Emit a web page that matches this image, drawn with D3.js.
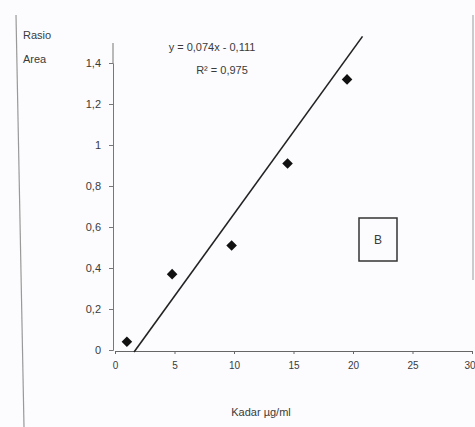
<!DOCTYPE html>
<html><head><meta charset="utf-8">
<script src="https://cdn.jsdelivr.net/npm/d3@7"></script>
<style>body{margin:0;background:#fcfcfe}svg{display:block}text{font-family:"Liberation Sans",Arial,sans-serif;fill:#3a3a3a}</style>
</head><body><svg id="c" width="475" height="427"></svg>
<script>
const xValues = [1.0, 4.8, 9.8, 14.5, 19.5];
const yValues = [0.04, 0.37, 0.51, 0.91, 1.32];
const xTicks = [0, 5, 10, 15, 20, 25, 30];
const yTicks = [0, 0.2, 0.4, 0.6, 0.8, 1, 1.2, 1.4];
const trendX = [1.6, 20.8];
const trendY = [-0.01, 1.53];
const equationText = "y = 0,074x - 0,111";
const r2Text = "R² = 0,975";
const xTitle = "Kadar µg/ml";
const yTitle = ["Rasio", "Area"];
const panelLabel = "B";

const svg = d3.select("#c");
const x = d3.scaleLinear().domain([0, 30]).range([115, 472]);
const y = d3.scaleLinear().domain([0, 1.4]).range([350, 63]);
const fmt = d => String(d).replace(".", ",");

// scan frame lines
svg.append("line").attr("x1",16).attr("y1",15).attr("x2",24).attr("y2",427).attr("stroke","#999").attr("stroke-width",1.2);
svg.append("line").attr("x1",473).attr("y1",15).attr("x2",473).attr("y2",280).attr("stroke","#aaa").attr("stroke-width",1.2);

// axes
const ya = svg.append("g").attr("transform","translate(113,0)")
  .call(d3.axisLeft(y).tickValues(yTicks).tickFormat(fmt).tickSize(4).tickPadding(8));
ya.select(".domain").attr("stroke","#777");
ya.selectAll(".tick line").attr("stroke","#777");
ya.selectAll("text").style("font-size","11px").attr("fill","#3a3a3a");
svg.append("line").attr("x1",113).attr("x2",113).attr("y1",43).attr("y2",63).attr("stroke","#777");

const xa = svg.append("g").attr("transform","translate(0,351)")
  .call(d3.axisBottom(x).tickValues(xTicks).tickFormat(fmt).tickSize(3).tickPadding(8));
xa.select(".domain").attr("stroke","#666");
xa.selectAll(".tick line").attr("stroke","#666");
xa.selectAll("text").style("font-size","10px").attr("fill","#555");
xa.selectAll(".tick").filter(d => d === 30).select("text").attr("text-anchor","end").attr("x",3);

// trend line
svg.append("line")
  .attr("x1", x(trendX[0])).attr("y1", y(trendY[0]))
  .attr("x2", x(trendX[1])).attr("y2", y(trendY[1]))
  .attr("stroke","#222").attr("stroke-width",1.6);

// points (diamonds)
svg.selectAll("path.pt").data(xValues.map((d,i)=>[d,yValues[i]])).enter().append("path")
  .attr("class","pt")
  .attr("d", d3.symbol(d3.symbolSquare, 56))
  .attr("transform", d => `translate(${x(d[0])},${y(d[1])}) rotate(45)`)
  .attr("fill","#111");

// texts
svg.append("text").attr("x",212).attr("y",51).attr("text-anchor","middle").style("font-size","11px").text(equationText);
svg.append("text").attr("x",222).attr("y",74).attr("text-anchor","middle").style("font-size","11px").text(r2Text);
svg.append("text").attr("x",23).attr("y",39).style("font-size","11px").text(yTitle[0]);
svg.append("text").attr("x",23).attr("y",63).style("font-size","11px").text(yTitle[1]);
svg.append("text").attr("x",261).attr("y",416).attr("text-anchor","middle").style("font-size","11px").text(xTitle);

// panel label box
svg.append("rect").attr("x",359).attr("y",218).attr("width",38).attr("height",43).attr("fill","none").attr("stroke","#333").attr("stroke-width",1.5);
svg.append("text").attr("x",378).attr("y",244).attr("text-anchor","middle").style("font-size","12px").attr("fill","#222").text(panelLabel);
</script></body></html>
